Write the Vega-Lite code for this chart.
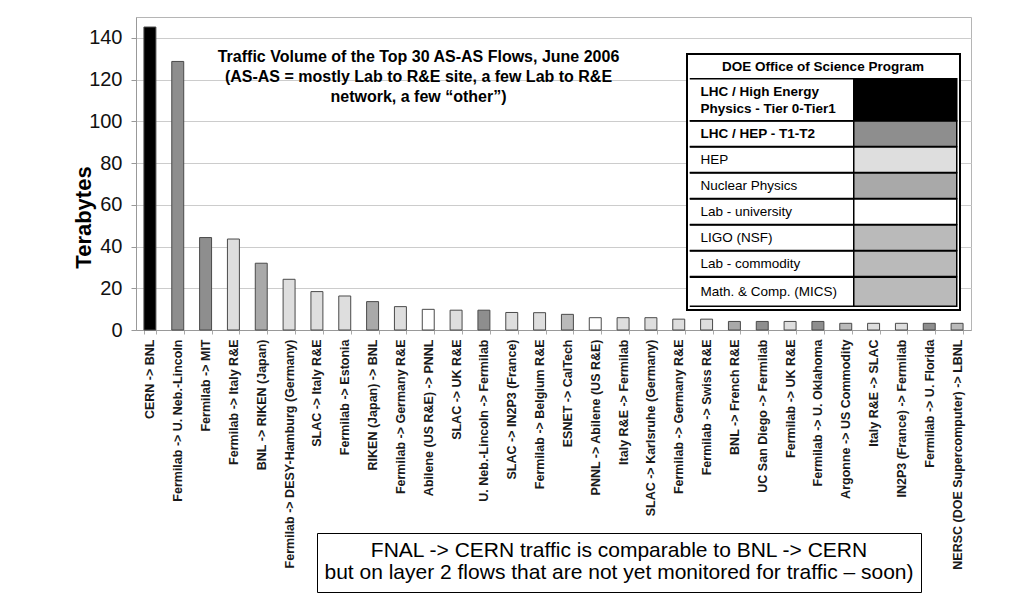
{
  "$schema": "https://vega.github.io/schema/vega-lite/v6.json",
  "width": 835,
  "height": 313,
  "autosize": {"type": "none"},
  "padding": {"left": 136, "top": 17, "right": 55, "bottom": 272},
  "background": "white",
  "title": {
    "text": ["Traffic Volume of the Top 30 AS-AS Flows, June 2006", "(AS-AS = mostly Lab to R&E site, a few Lab to R&E", "network, a few “other”)"],
    "anchor": "middle",
    "frame": "group",
    "font": "Liberation Sans",
    "fontSize": 16,
    "fontWeight": "bold",
    "color": "black",
    "lineHeight": 20,
    "offset": 0,
    "dx": -135,
    "dy": 88
  },
  "layer": [
    {
      "data": {
        "values": [
          {"flow": "CERN -> BNL", "tb": 145.2, "program": "LHC / High Energy Physics - Tier 0-Tier1"},
          {"flow": "Fermilab -> U. Neb.-Lincoln", "tb": 128.7, "program": "LHC / HEP - T1-T2"},
          {"flow": "Fermilab -> MIT", "tb": 44.3, "program": "LHC / HEP - T1-T2"},
          {"flow": "Fermilab -> Italy R&E", "tb": 43.6, "program": "HEP"},
          {"flow": "BNL -> RIKEN (Japan)", "tb": 32.0, "program": "Nuclear Physics"},
          {"flow": "Fermilab -> DESY-Hamburg (Germany)", "tb": 24.3, "program": "HEP"},
          {"flow": "SLAC -> Italy R&E", "tb": 18.4, "program": "HEP"},
          {"flow": "Fermilab -> Estonia", "tb": 16.3, "program": "HEP"},
          {"flow": "RIKEN (Japan) -> BNL", "tb": 13.6, "program": "Nuclear Physics"},
          {"flow": "Fermilab -> Germany R&E", "tb": 11.2, "program": "HEP"},
          {"flow": "Abilene (US R&E) -> PNNL", "tb": 9.9, "program": "Lab - university"},
          {"flow": "SLAC -> UK R&E", "tb": 9.5, "program": "HEP"},
          {"flow": "U. Neb.-Lincoln -> Fermilab", "tb": 9.5, "program": "LHC / HEP - T1-T2"},
          {"flow": "SLAC -> IN2P3 (France)", "tb": 8.4, "program": "HEP"},
          {"flow": "Fermilab -> Belgium R&E", "tb": 8.3, "program": "HEP"},
          {"flow": "ESNET -> CalTech", "tb": 7.5, "program": "LIGO (NSF)"},
          {"flow": "PNNL -> Abilene (US R&E)", "tb": 5.9, "program": "Lab - university"},
          {"flow": "Italy R&E -> Fermilab", "tb": 5.9, "program": "HEP"},
          {"flow": "SLAC -> Karlsruhe (Germany)", "tb": 5.9, "program": "HEP"},
          {"flow": "Fermilab -> Germany R&E ", "tb": 5.2, "program": "HEP"},
          {"flow": "Fermilab -> Swiss R&E", "tb": 5.2, "program": "HEP"},
          {"flow": "BNL -> French R&E", "tb": 4.1, "program": "Nuclear Physics"},
          {"flow": "UC San Diego -> Fermilab", "tb": 4.1, "program": "LHC / HEP - T1-T2"},
          {"flow": "Fermilab -> UK R&E", "tb": 4.1, "program": "HEP"},
          {"flow": "Fermilab -> U. Oklahoma", "tb": 4.1, "program": "LHC / HEP - T1-T2"},
          {"flow": "Argonne -> US Commodity", "tb": 3.2, "program": "Lab - commodity"},
          {"flow": "Italy R&E -> SLAC", "tb": 3.2, "program": "HEP"},
          {"flow": "IN2P3 (France) -> Fermilab", "tb": 3.2, "program": "HEP"},
          {"flow": "Fermilab -> U. Florida", "tb": 3.2, "program": "LHC / HEP - T1-T2"},
          {"flow": "NERSC (DOE Supercomputer) -> LBNL", "tb": 3.2, "program": "Math. & Comp. (MICS)"}
        ]
      },
      "mark": {"type": "bar", "stroke": "#4a4a4a", "strokeWidth": 1},
      "encoding": {
        "x": {
          "field": "flow",
          "type": "nominal",
          "sort": null,
          "scale": {"paddingInner": 0.57, "paddingOuter": 0.285},
          "axis": {
            "title": null,
            "labelAngle": -90,
            "labelAlign": "right",
            "labelBaseline": "middle",
            "labelFont": "Liberation Sans",
            "labelFontSize": 12.5,
            "labelFontWeight": "bold",
            "labelColor": "#1a1a1a",
            "labelPadding": 5,
            "labelLimit": 400,
            "labelOverlap": false,
            "ticks": true,
            "tickSize": 4,
            "tickColor": "#aaaaaa",
            "tickBand": "extent",
            "domainColor": "#999999"
          }
        },
        "y": {
          "field": "tb",
          "type": "quantitative",
          "scale": {"domain": [0, 150], "nice": false},
          "axis": {
            "values": [0, 20, 40, 60, 80, 100, 120, 140],
            "title": "Terabytes",
            "titleFont": "Liberation Sans",
            "titleFontSize": 22,
            "titleFontWeight": "bold",
            "titleColor": "black",
            "titleAngle": -90,
            "titleX": -53,
            "titleY": 200,
            "titleAlign": "center",
            "titleBaseline": "middle",
            "labelFont": "Liberation Sans Narrow, Liberation Sans",
            "labelFontSize": 20,
            "labelColor": "#111111",
            "labelPadding": 9,
            "tickSize": 5,
            "tickColor": "#999999",
            "domainColor": "#999999",
            "grid": true,
            "gridColor": "#cccccc"
          }
        },
        "fill": {
          "field": "program",
          "type": "nominal",
          "scale": {
            "domain": ["LHC / High Energy Physics - Tier 0-Tier1", "LHC / HEP - T1-T2", "HEP", "Nuclear Physics", "Lab - university", "LIGO (NSF)", "Lab - commodity", "Math. & Comp. (MICS)"],
            "range": ["#000000", "#8e8e8e", "#dedede", "#a9a9a9", "#ffffff", "#bababa", "#bababa", "#bababa"]
          },
          "legend": {
            "orient": "none",
            "legendX": 551,
            "legendY": 37,
            "title": ["", "DOE Office of Science Program"],
            "titleFont": "Liberation Sans",
            "titleFontSize": 13.5,
            "titleFontWeight": "bold",
            "titleColor": "black",
            "titleAnchor": "middle",
            "titleAlign": "center",
            "titleBaseline": "top",
            "titleLineHeight": 6,
            "titleLimit": 400,
            "titlePadding": 19.5,
            "padding": 0,
            "strokeColor": "black",
            "fillColor": "white",
            "symbolSize": 4,
            "symbolStrokeColor": "black",
            "symbolStrokeWidth": 1.5,
            "symbolOpacity": 1,
            "labelFont": "Liberation Sans",
            "labelFontSize": 13.5,
            "labelColor": "black",
            "labelOffset": 0,
            "labelLimit": 250,
            "rowPadding": -6,
            "labelExpr": "datum.label == 'LHC / High Energy Physics - Tier 0-Tier1' ? ['LHC / High Energy', 'Physics  - Tier 0-Tier1'] : datum.label",
            "encode": {
              "symbols": {
                "update": {
                  "shape": {"signal": "datum.index === 0 ? 'M-4,-21H160M-4,21H160M160,-21H263V21H160Z' : datum.index === 7 ? 'M-4,-14.5H160M-4,14.5H160M160,-14.5H263V14.5H160Z' : 'M-4,-12.75H160M-4,12.75H160M160,-12.75H263V12.75H160Z'"},
                  "strokeWidth": {"value": 1.5},
                  "stroke": {"value": "black"}
                }
              },
              "labels": {
                "update": {
                  "fontWeight": {"signal": "datum.index < 2 ? 'bold' : 'normal'"},
                  "lineHeight": {"value": 17},
                  "dy": {"signal": "datum.index === 0 ? -8 : 0"}
                }
              },
              "legend": {"update": {"strokeWidth": {"value": 2}}}
            }
          }
        }
      }
    },
    {
      "data": {"values": [{"note": "FNAL -> CERN"}]},
      "mark": {"type": "point", "opacity": 0},
      "encoding": {
        "shape": {
          "field": "note",
          "type": "nominal",
          "legend": {
            "orient": "none",
            "legendX": 181,
            "legendY": 516,
            "title": ["FNAL -> CERN traffic is comparable to BNL -> CERN", "but on layer 2 flows that are not yet monitored for traffic – soon)"],
            "titleFont": "Liberation Sans",
            "titleFontSize": 21,
            "titleFontWeight": "normal",
            "titleColor": "black",
            "titleAnchor": "middle",
            "titleAlign": "center",
            "titleLineHeight": 22,
            "titleLimit": 800,
            "titlePadding": 0,
            "padding": 7,
            "strokeColor": "black",
            "fillColor": "white",
            "symbolSize": 4,
            "symbolOpacity": 0,
            "symbolStrokeWidth": 0,
            "labelExpr": "''",
            "labelFontSize": 1,
            "encode": {
              "legend": {"update": {"strokeWidth": {"value": 1.5}}}
            }
          }
        }
      }
    }
  ],
  "config": {
    "view": {"stroke": "#b5b5b5", "strokeWidth": 1}
  }
}
